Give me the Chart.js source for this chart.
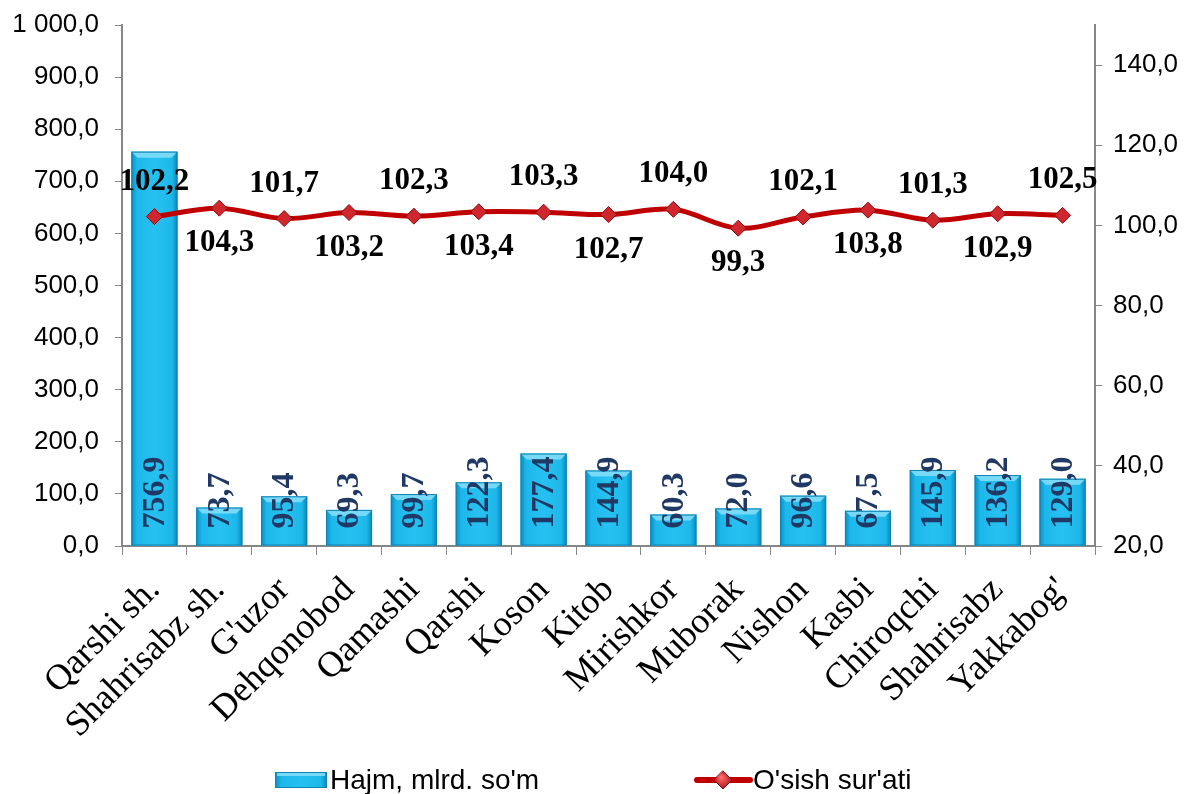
<!DOCTYPE html>
<html>
<head>
<meta charset="utf-8">
<script src="https://cdn.jsdelivr.net/npm/chart.js@4.4.1/dist/chart.umd.min.js"></script>
<style>
    html, body { margin: 0; padding: 0; background: #fff; }
    #wrap { width: 1189px; height: 794px; position: relative; }
</style>
</head>
<body>
<div id="wrap"><canvas id="chart"></canvas></div>
<script>
// Chart data
const categories = ['Qarshi sh.', 'Shahrisabz sh.', "G'uzor", 'Dehqonobod', 'Qamashi', 'Qarshi', 'Koson',
    'Kitob', 'Mirishkor', 'Muborak', 'Nishon', 'Kasbi', 'Chiroqchi', 'Shahrisabz', "Yakkabog'"];
const volumeValues = [756.9, 73.7, 95.4, 69.3, 99.7, 122.3, 177.4, 144.9, 60.3, 72.0, 96.6, 67.5, 145.9, 136.2, 129.0];
const growthValues = [102.2, 104.3, 101.7, 103.2, 102.3, 103.4, 103.3, 102.7, 104.0, 99.3, 102.1, 103.8, 101.3, 102.9, 102.5];
const legendNames = ["Hajm, mlrd. so'm", "O'sish sur'ati"];

const SANS = '"Liberation Sans", Arial, sans-serif';
const SERIF = '"Liberation Serif", "Times New Roman", serif';
const AXIS_GREY = '#868686';
const LINE_RED = '#c00000';

// Helper: 1000 -> "1 000,0"
function formatNumber(v) {
    const parts = v.toFixed(1).split('.');
    parts[0] = parts[0].replace(/\B(?=(\d{3})+(?!\d))/g, ' ');
    return parts.join(',');
}

function barGradient(ctx, left, width) {
    const g = ctx.createLinearGradient(left, 0, left + width, 0);
    g.addColorStop(0, '#0a8dc2');
    g.addColorStop(0.12, '#1db8ea');
    g.addColorStop(0.5, '#27c1f1');
    g.addColorStop(0.88, '#1db8ea');
    g.addColorStop(1, '#0a86b8');
    return g;
}

function drawDiamond(ctx, x, y, r) {
    ctx.beginPath();
    ctx.moveTo(x, y - r);
    ctx.lineTo(x + r, y);
    ctx.lineTo(x, y + r);
    ctx.lineTo(x - r, y);
    ctx.closePath();
    const g = ctx.createRadialGradient(x - 2, y - 3, 1, x, y, r);
    g.addColorStop(0, '#ff6b6b');
    g.addColorStop(1, '#b3121b');
    ctx.fillStyle = g;
    ctx.fill();
    ctx.strokeStyle = '#8a0c12';
    ctx.lineWidth = 1;
    ctx.stroke();
}

// Bevelled look of the bars
const barStylePlugin = {
    id: 'barStyle',
    afterDatasetDraw(chart, args) {
        if (args.index !== 0) return;
        const ctx = chart.ctx;
        ctx.save();
        args.meta.data.forEach(bar => {
            const left = bar.x - bar.width / 2;
            const h = bar.base - bar.y;
            ctx.fillStyle = barGradient(ctx, left, bar.width);
            ctx.fillRect(left, bar.y, bar.width, h);
            // top bevel
            const b = Math.min(6, h / 2);
            ctx.beginPath();
            ctx.moveTo(left, bar.y);
            ctx.lineTo(left + bar.width, bar.y);
            ctx.lineTo(left + bar.width - b, bar.y + b);
            ctx.lineTo(left + b, bar.y + b);
            ctx.closePath();
            ctx.fillStyle = 'rgba(140, 225, 250, 0.8)';
            ctx.fill();
            ctx.strokeStyle = '#1383b3';
            ctx.lineWidth = 1;
            ctx.strokeRect(left + 0.5, bar.y + 0.5, bar.width - 1, h - 1);
        });
        ctx.restore();
    }
};

// Value labels for both series
const valueLabelsPlugin = {
    id: 'valueLabels',
    afterDatasetsDraw(chart) {
        const ctx = chart.ctx;
        ctx.save();

        // bar labels, rotated, starting near the base
        ctx.font = 'bold 32px ' + SERIF;
        ctx.fillStyle = '#1f3864';
        chart.getDatasetMeta(0).data.forEach((bar, i) => {
            ctx.save();
            ctx.translate(bar.x + 1, bar.base - 17);
            ctx.rotate(-Math.PI / 2);
            ctx.textAlign = 'left';
            ctx.textBaseline = 'middle';
            ctx.fillText(formatNumber(volumeValues[i]), 0, 0);
            ctx.restore();
        });

        // line labels, alternating above / below
        ctx.font = 'bold 31px ' + SERIF;
        ctx.fillStyle = '#000';
        ctx.textAlign = 'center';
        ctx.textBaseline = 'middle';
        chart.getDatasetMeta(1).data.forEach((pt, i) => {
            const dy = i % 2 === 0 ? -35 : 35;
            ctx.fillText(formatNumber(growthValues[i]), pt.x, pt.y + dy);
        });
        ctx.restore();
    }
};

// Bottom legend
const legendPlugin = {
    id: 'bottomLegend',
    afterDraw(chart) {
        const ctx = chart.ctx;
        const y = 780;
        ctx.save();
        ctx.font = '28px ' + SANS;
        ctx.textBaseline = 'middle';

        // bar key
        ctx.fillStyle = barGradient(ctx, 275, 52);
        ctx.fillRect(275, y - 8, 52, 16);
        ctx.strokeStyle = '#1383b3';
        ctx.lineWidth = 1;
        ctx.strokeRect(275.5, y - 7.5, 51, 15);
        ctx.fillStyle = 'rgba(140, 225, 250, 0.8)';
        ctx.fillRect(277, y - 7, 48, 3);
        ctx.fillStyle = '#000';
        ctx.fillText(legendNames[0], 330, y + 1);

        // line key
        ctx.strokeStyle = LINE_RED;
        ctx.lineWidth = 6;
        ctx.lineCap = 'round';
        ctx.beginPath();
        ctx.moveTo(697, y);
        ctx.lineTo(750, y);
        ctx.stroke();
        drawDiamond(ctx, 723, y, 9);
        ctx.fillStyle = '#000';
        ctx.fillText(legendNames[1], 753, y + 1);
        ctx.restore();
    }
};

// fixed box sizes so the plot area sits where the original has it
function fixVertical(width) {
    return scale => {
        scale.width = width;
        scale.paddingTop = 0;
        scale.paddingBottom = 0;
    };
}

function initChart() {
    const ctx = document.getElementById('chart');
    new Chart(ctx, {
        data: {
            labels: categories,
            datasets: [{
                type: 'bar',
                label: legendNames[0],
                data: volumeValues,
                yAxisID: 'y',
                backgroundColor: '#1db8ea',
                borderWidth: 0,
                barPercentage: 0.71,
                categoryPercentage: 1,
                order: 2
            }, {
                type: 'line',
                label: legendNames[1],
                data: growthValues,
                yAxisID: 'y1',
                borderColor: LINE_RED,
                borderWidth: 5,
                tension: 0.35,
                pointStyle: 'rectRot',
                pointRadius: 8,
                pointBackgroundColor: '#d0262e',
                pointBorderColor: '#8a0c12',
                pointBorderWidth: 1,
                order: 1
            }]
        },
        options: {
            responsive: true,
            maintainAspectRatio: false,
            animation: false,
            layout: {
                padding: { top: 25, bottom: 40, left: 0, right: 0 }
            },
            plugins: {
                legend: { display: false },
                tooltip: { enabled: false }
            },
            scales: {
                x: {
                    offset: true,
                    grid: {
                        offset: true,
                        drawOnChartArea: false,
                        color: AXIS_GREY,
                        tickLength: 9
                    },
                    border: { color: AXIS_GREY, width: 2 },
                    ticks: {
                        autoSkip: false,
                        minRotation: 45,
                        maxRotation: 45,
                        color: '#000',
                        padding: 14,
                        font: { family: SERIF, size: 36 }
                    },
                    afterFit(scale) {
                        scale.height = 208;
                        scale.paddingLeft = 0;
                        scale.paddingRight = 0;
                    }
                },
                y: {
                    position: 'left',
                    min: 0,
                    max: 1000,
                    ticks: {
                        stepSize: 100,
                        color: '#000',
                        padding: 16,
                        font: { family: SANS, size: 26 },
                        callback: v => formatNumber(v)
                    },
                    grid: { drawOnChartArea: false, color: AXIS_GREY, tickLength: 7 },
                    border: { color: AXIS_GREY, width: 2 },
                    afterFit: fixVertical(122)
                },
                y1: {
                    position: 'right',
                    min: 20,
                    max: 150,
                    ticks: {
                        stepSize: 20,
                        color: '#000',
                        padding: 11,
                        font: { family: SANS, size: 26 },
                        callback: v => formatNumber(v)
                    },
                    afterBuildTicks(scale) {
                        scale.ticks = scale.ticks.filter(t => t.value <= 140);
                    },
                    grid: { drawOnChartArea: false, color: AXIS_GREY, tickLength: 7 },
                    border: { color: AXIS_GREY, width: 2 },
                    afterFit: fixVertical(94)
                }
            }
        },
        plugins: [barStylePlugin, valueLabelsPlugin, legendPlugin]
    });
}

document.addEventListener('DOMContentLoaded', initChart);
</script>
</body>
</html>
